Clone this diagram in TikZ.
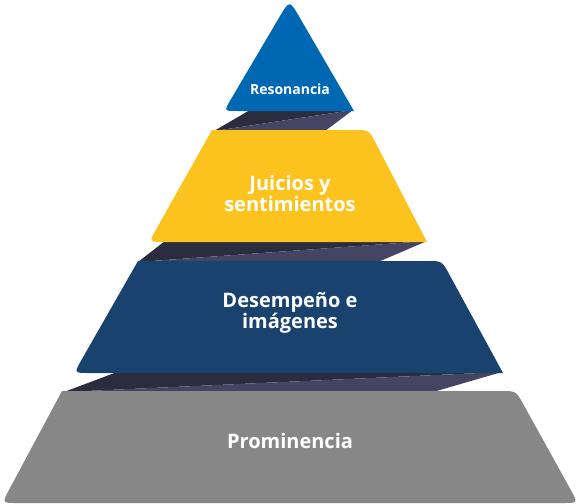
\documentclass[tikz,border=0pt]{standalone}
\usepackage{fontspec}
\setmainfont{Open Sans}
\usetikzlibrary{calc}
\definecolor{triblue}{HTML}{0068B3}
\definecolor{ylw}{HTML}{FCC21E}
\definecolor{dkblue}{HTML}{19426F}
\definecolor{grey1}{HTML}{878787}
\definecolor{banddark}{HTML}{2B2D3F}
\definecolor{bandlight}{HTML}{434562}
\begin{document}
\begin{tikzpicture}[x=1pt,y=-1pt,
  lbl/.style={text=white,align=center,inner sep=0pt,font=\bfseries\fontsize{20}{21}\selectfont},
  small/.style={font=\bfseries\fontsize{14}{16}\selectfont}]
\useasboundingbox (0,0) rectangle (577,503);
% bands
\fill[banddark] (250,110) -- (353,110) -- (214,131) -- cycle;
\fill[bandlight] (214,131) -- (353,110) -- (325,131) -- cycle;
\fill[banddark] (165,241) -- (427,241) -- (138,262) -- cycle;
\fill[bandlight] (138,262) -- (427,241) -- (378,262) -- cycle;
\fill[banddark] (117,372) -- (502,372) -- (64,392) -- cycle;
\fill[bandlight] (64,392) -- (502,372) -- (433,392) -- cycle;
% triangle
\coordinate (tA) at (289.5,0);
\coordinate (tL) at (224,111);
\coordinate (tR) at (354,111);
\fill[triblue] ($(tA)!20pt!(tL)$) -- ($(tL)!13pt!(tA)$) .. controls (tL) .. ($(tL)!13pt!(tR)$)
  -- (tR) -- ($(tA)!20pt!(tR)$) .. controls (tA) .. ($(tA)!20pt!(tL)$) -- cycle;
% yellow
\coordinate (yTL) at (212,130);
\coordinate (yTR) at (369,130);
\coordinate (yBR) at (427,242);
\coordinate (yBL) at (149,242);
\fill[ylw] (yTL) -- ($(yTR)!15pt!(yTL)$) .. controls (yTR) .. ($(yTR)!15pt!(yBR)$)
  -- (yBR) -- ($(yBL)!15pt!(yBR)$) .. controls (yBL) .. ($(yBL)!15pt!(yTL)$) -- cycle;
% blue
\coordinate (bTL) at (138,261);
\coordinate (bTR) at (442,261);
\coordinate (bBR) at (503,373);
\coordinate (bBL) at (74,373);
\fill[dkblue] (bTL) -- ($(bTR)!15pt!(bTL)$) .. controls (bTR) .. ($(bTR)!15pt!(bBR)$)
  -- (bBR) -- ($(bBL)!15pt!(bBR)$) .. controls (bBL) .. ($(bBL)!15pt!(bTL)$) -- cycle;
% grey
\coordinate (gTL) at (62,391);
\coordinate (gTR) at (516,391);
\coordinate (gBR) at (578,503);
\coordinate (gBL) at (2,503);
\fill[grey1] (gTL) -- ($(gTR)!15pt!(gTL)$) .. controls (gTR) .. ($(gTR)!15pt!(gBR)$)
  -- ($(gBR)!15pt!(gTR)$) .. controls (gBR) .. ($(gBR)!15pt!(gBL)$)
  -- ($(gBL)!15pt!(gBR)$) .. controls (gBL) .. ($(gBL)!15pt!(gTL)$) -- cycle;
% labels
\node[lbl,small,anchor=base] (res) at (290,94) {Resonancia};
\node[lbl] (jui) at (290,193) {Juicios y\\sentimientos};
\node[lbl] (des) at (290,313) {Desempeño e\\imágenes};
\node[lbl,anchor=base] (pro) at (290,448) {Prominencia};
\end{tikzpicture}
\end{document}
